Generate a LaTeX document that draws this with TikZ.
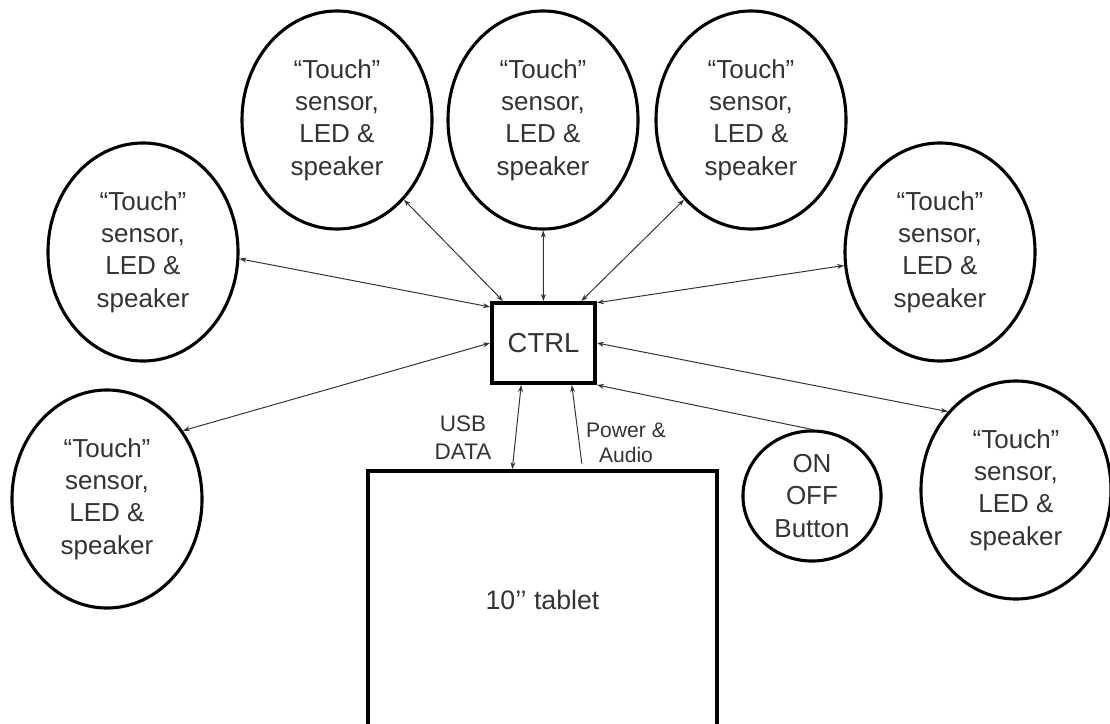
\documentclass[tikz,border=0pt]{standalone}
\usepackage{fontspec}
\setmainfont{Liberation Sans}
\usepackage{tikz}
\usetikzlibrary{shapes.geometric, arrows.meta}
\definecolor{ink}{HTML}{333333}

\begin{document}
\begin{tikzpicture}[x=0.025cm, y=-0.025cm, >={Stealth[length=5pt,width=3.5pt]},
  sensor/.style={draw, ellipse, line width=2.2pt, minimum width=4.75cm, minimum height=5.45cm,
    inner sep=0pt, align=center, text=ink, font={\fontsize{18.5}{23}\selectfont}},
  box/.style={draw, line width=2.6pt, inner sep=0pt, text=ink},
  link/.style={<->, line width=0.7pt, ink},
  feed/.style={->, line width=0.7pt, ink},
  tag/.style={align=center, text=ink}]

  \useasboundingbox (0,0) rectangle (1110,723);

  \node[sensor] (sensTL) at (337,120) {“Touch”\\sensor,\\LED \&\\speaker};
  \node[sensor] (sensTC) at (543,120) {“Touch”\\sensor,\\LED \&\\speaker};
  \node[sensor] (sensTR) at (751,120) {“Touch”\\sensor,\\LED \&\\speaker};
  \node[sensor] (sensML) at (143,252) {“Touch”\\sensor,\\LED \&\\speaker};
  \node[sensor] (sensMR) at (940,252) {“Touch”\\sensor,\\LED \&\\speaker};
  \node[sensor] (sensBL) at (107,499) {“Touch”\\sensor,\\LED \&\\speaker};
  \node[sensor] (sensBR) at (1016,490) {“Touch”\\sensor,\\LED \&\\speaker};

  \node[box, line width=2.8pt, minimum width=2.575cm, minimum height=2cm,
    font={\fontsize{19.5}{23}\selectfont}] (ctrl) at (543.5,343) {CTRL};
  \node[box, minimum width=8.725cm, minimum height=6.45cm,
    font={\fontsize{19}{23}\selectfont}] (tablet) at (542.5,600) {10’’ tablet};
  \node[sensor, minimum width=3.45cm, minimum height=3.25cm] (onoff) at (812,496) {ON\\OFF\\Button};

  \node[tag, font={\fontsize{16}{20}\selectfont}] (usb) at (463,438) {USB\\DATA};
  \node[tag, font={\fontsize{15}{17.5}\selectfont}] (pwr) at (626,443) {Power \&\\Audio};

  \draw[link] (sensTL.-50) -- (ctrl.134);
  \draw[link] (sensTC) -- (ctrl);
  \draw[link] (sensTR.-130) -- (ctrl.48);
  \draw[link] (sensML.-4) -- (ctrl.146);
  \draw[link] (sensMR.188) -- (ctrl.37);
  \draw[link] (sensBL.42) -- (ctrl.west);
  \draw[link] (sensBR.131) -- (ctrl.east);
  \draw[feed] (onoff.north) -- (ctrl.south east);

  \draw[link] (ctrl.-118) -- (tablet.103);
  \draw[feed, shorten <=4pt] (tablet.73) -- (ctrl.-56);

\end{tikzpicture}
\end{document}
